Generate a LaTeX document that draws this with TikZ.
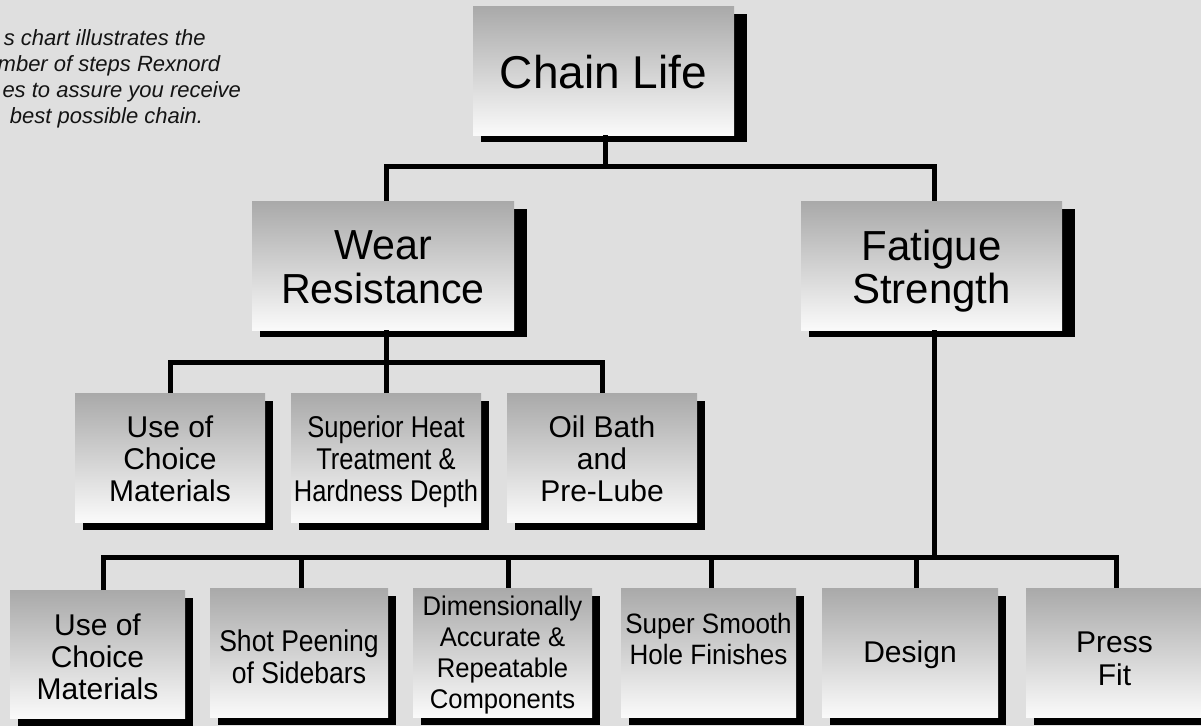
\documentclass[tikz,border=0pt]{standalone}
\usepackage{fontspec}
\setmainfont{Liberation Sans}
\usetikzlibrary{calc}
\definecolor{bgc}{HTML}{DFDFDF}
\definecolor{boxtop}{HTML}{A9A9A9}
\definecolor{boxbot}{HTML}{FAFAFA}
\pgfdeclarelayer{bglayer}
\pgfdeclarelayer{shadelayer}
\pgfsetlayers{bglayer,shadelayer,main}
\newcommand\bt[3]{\raisebox{-#1pt}[\height][\depth]{\scalebox{#2}[1]{\begin{tabular}{@{}c@{}}#3\end{tabular}}}}
\begin{document}
\begin{tikzpicture}[x=1pt,y=-1pt,
  box/.style={rectangle, inner sep=0pt, outer sep=0pt, top color=boxtop, bottom color=boxbot, draw=none, minimum height=129pt},
  big/.style={box, font=\fontsize{42}{43}\selectfont},
  small/.style={box, font=\fontsize{30}{32}\selectfont},
  conn/.style={line width=5pt, draw=black},
  shadowbox/.style={fill=black},
  note/.style={anchor=base west, inner sep=0pt, font=\itshape\fontsize{22}{26}\selectfont, text=black!92}
]
\useasboundingbox (0,0) rectangle (1201,726);
\begin{pgfonlayer}{bglayer}
\fill[bgc] (0,0) rectangle (1201,726);
\end{pgfonlayer}
\clip (0,0) rectangle (1201,726);

% note text (clipped at the left edge in the reference)
\node[note] (n1) at (3.6,45) {s chart illustrates the};
\node[note] (n2) at (-2.5,71) {mber of steps Rexnord};
\node[note] (n3) at (2.3,97) {es to assure you receive};
\node[note] (n4) at (9.7,123) {best possible chain.};

% boxes
\node[box, minimum width=261pt, font=\fontsize{46}{55}\selectfont] (cl) at (603.5,70.5) {\bt{6.5}{1}{Chain Life}};
\node[big, minimum width=262pt] (wr) at (383,265.5) {\bt{7.5}{0.98}{Wear\\Resistance}};
\node[big, minimum width=261pt] (fs) at (931.5,265.5) {\bt{7.5}{1}{Fatigue\\Strength}};

\node[small, minimum width=190pt] (m1) at (170,457.5) {\bt{6}{1}{Use of\\Choice\\Materials}};
\node[small, minimum width=190pt] (m2) at (386,457.5) {\bt{6}{0.85}{Superior Heat\\Treatment \&\\Hardness Depth}};
\node[small, minimum width=190pt] (m3) at (602,457.5) {\bt{6}{1}{Oil Bath\\and\\Pre-Lube}};

\node[small, minimum width=175pt, minimum height=128pt] (b1) at (97.5,654) {\bt{6.6}{1}{Use of\\Choice\\Materials}};
\node[small, minimum width=178pt] (b2) at (299,652.5) {\bt{9}{0.885}{Shot Peening\\of Sidebars}};
\node[small, minimum width=179pt, font=\fontsize{27}{31}\selectfont] (b3) at (502.5,652.5) {\bt{3}{0.95}{Dimensionally\\Accurate \&\\Repeatable\\Components}};
\node[small, minimum width=175pt, font=\fontsize{28}{31}\selectfont] (b4) at (708.5,652.5) {\bt{-10}{0.93}{Super Smooth\\Hole Finishes}};
\node[small, minimum width=176pt] (b5) at (910,652.5) {\bt{4}{1}{Design}};
\node[small, minimum width=177pt, font=\fontsize{30}{33}\selectfont] (b6) at (1114.5,652.5) {\bt{10}{1}{Press\\Fit}};

% shadows
\begin{pgfonlayer}{shadelayer}
\foreach \n in {cl,wr,fs}
  \fill[shadowbox] ([shift={(8,8)}]\n.north west) rectangle ([shift={(13,7)}]\n.south east);
\foreach \n in {m1,m2,m3,b1,b2,b3,b4,b5,b6}
  \fill[shadowbox] ([shift={(8,8)}]\n.north west) rectangle ([shift={(8,8)}]\n.south east);
\end{pgfonlayer}

% connector attachment points
\coordinate (busA) at (0,166);
\coordinate (busB) at (0,362);
\coordinate (busC) at (0,557);
\coordinate (clB) at ([xshift=2pt]cl.south);
\coordinate (wrT) at ([xshift=3pt]wr.north);
\coordinate (fsT) at ([xshift=2.5pt]fs.north);
\coordinate (wrB) at ([xshift=3pt]wr.south);
\coordinate (fsB) at ([xshift=2.5pt]fs.south);
\coordinate (b1T) at ([xshift=5.5pt]b1.north);
\coordinate (b2T) at ([xshift=2pt]b2.north);
\coordinate (b3T) at ([xshift=5.5pt]b3.north);
\coordinate (b4T) at ([xshift=2.5pt]b4.north);
\coordinate (b5T) at ([xshift=6pt]b5.north);
\coordinate (b6T) at ([xshift=1.5pt]b6.north);

% connectors
\draw[conn] (clB) -- (clB |- busA);
\draw[conn] (wrT) |- (clB |- busA) -| (fsT);

\draw[conn] (wrB) -- (wrB |- busB);
\draw[conn] (m1.north) |- (wrB |- busB) -| (m3.north);
\draw[conn] (m2.north) -- (m2.north |- busB);

\draw[conn] (fsB) -- (fsB |- busC);
\draw[conn] (b1T) |- (fsB |- busC) -| (b6T);
\foreach \n in {b2T,b3T,b4T,b5T}
  \draw[conn] (\n) -- (\n |- busC);
\end{tikzpicture}
\end{document}
